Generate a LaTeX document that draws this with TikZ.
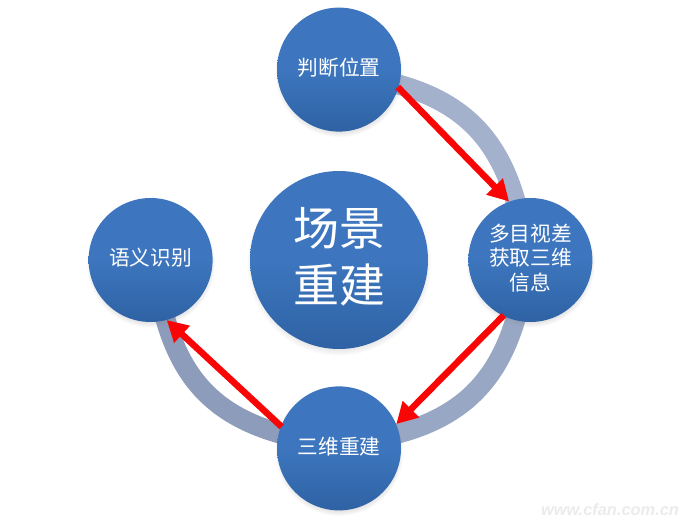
\documentclass[tikz,border=0pt]{standalone}
\usepackage{fontspec}
\setmainfont{Noto Sans CJK SC}
\newfontfamily\markfont{Liberation Sans}
\usetikzlibrary{positioning,arrows.meta,shadows,backgrounds}
\definecolor{ballblue}{HTML}{3D76BE}
\definecolor{balldark}{HTML}{2E62A4}
\definecolor{ringblue}{HTML}{A3B1CD}
\definecolor{ringdark}{HTML}{8D9CBB}
\definecolor{arrowred}{HTML}{FA0505}
\tikzset{
  ball/.style={circle,draw=none,inner sep=0pt,align=center,text=white,
    top color=ballblue,bottom color=balldark,middle color=ballblue,
    circular drop shadow={shadow xshift=0pt,shadow yshift=-3pt,shadow scale=1.04,opacity=.35}},
  stage/.style={ball,minimum size=124pt,text depth=6pt,font=\fontsize{20.7}{24.5}\selectfont},
  ringarc/.style={line width=20pt,bend left=31,shorten <=-10pt,shorten >=-10pt},
  redarrow/.style={-{Triangle[length=21pt,width=22pt]},line width=6.5pt,arrowred,shorten <=-1pt},
}
\begin{document}
\begin{tikzpicture}[x=1pt,y=1pt]
  \useasboundingbox (0,0) rectangle (685,526);
  \node[ball,minimum size=178pt,text depth=11pt,font=\fontsize{46}{57}\selectfont](scene) at (339,266){场景\\重建};
  \node[stage,above=39pt of scene](judge){判断位置};
  \node[stage,right=40pt of scene](vision){多目视差\\获取三维\\信息};
  \node[stage,below=37pt of scene](rebuild){三维重建};
  \node[stage,left=37pt of scene](semantic){语义识别};
  \node[text=black!8,font=\markfont\bfseries\itshape\fontsize{16.4}{16.4}\selectfont](mark) at (610,16){www.cfan.com.cn};
  \begin{scope}[on background layer]
    \draw[ringarc,ringblue] (judge.-14) to (vision.104);
    \draw[ringarc,ringblue!50!ringdark] (vision.-104) to (rebuild.14);
    \draw[ringarc,ringdark] (rebuild.166) to (semantic.-76);
  \end{scope}
  \draw[redarrow] (judge.-17) -- (vision.110);
  \draw[redarrow] (vision.244) -- (rebuild.23);
  \draw[redarrow] (rebuild.159) -- (semantic.-75);
\end{tikzpicture}
\end{document}
